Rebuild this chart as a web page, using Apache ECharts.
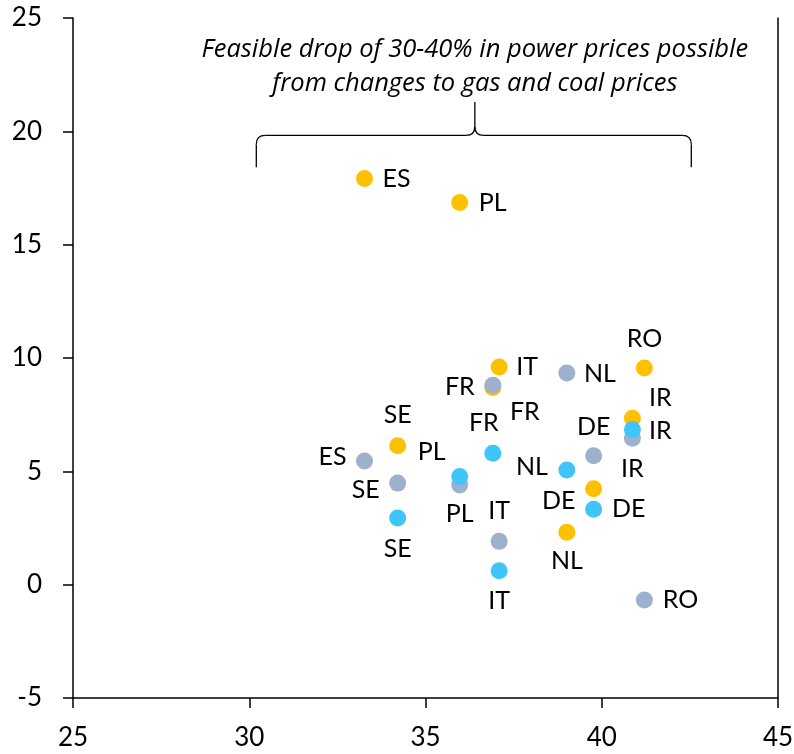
<!DOCTYPE html>
<html>
<head>
<meta charset="utf-8">
<script src="https://cdn.jsdelivr.net/npm/echarts@6/dist/echarts.min.js"></script>
<style>
  html, body { margin: 0; padding: 0; background: #fff; }
  #main { width: 794px; height: 754px; }
</style>
</head>
<body>
<div id="main"></div>
<script>
// countries and their x position (shared by all three series)
var countries = ['ES', 'SE', 'PL', 'FR', 'IT', 'NL', 'DE', 'IR', 'RO'];
var xValues = [33.27, 34.21, 35.97, 36.91, 37.09, 39.01, 39.77, 40.87, 41.21];

// y values per series (null = no point)
var orangeY = [17.92, 6.13, 16.86, 8.70, 9.60, 2.31, 4.23, 7.34, 9.56];
var greyY = [5.46, 4.48, 4.40, 8.80, 1.91, 9.34, 5.69, 6.46, -0.68];
var blueY = [null, 2.94, 4.77, 5.80, 0.61, 5.06, 3.33, 6.85, null];

// axis ticks
var xTicks = [25, 30, 35, 40, 45];
var yTicks = [-5, 0, 5, 10, 15, 20, 25];

// annotation
var noteText = ['Feasible drop of 30-40% in power prices possible', 'from changes to gas and coal prices'];
var braceX = [30.2, 36.4, 42.54];   // left, middle, right
var braceY = [18.42, 19.82, 21.29]; // ends, bar, tip
var noteY = 22.85;

// label offsets (px) from each point, same order as countries
var orangeLabelOffset = [[32, 0], [0, -31], [33, 0], [32, 24], [28, 0], [0, 29], [-35, 12], [28, -20], [0, -29]];
var greyLabelOffset = [[-32, -4], [-32, 7], [0, 29], [-33, 2], [0, -30], [33, 1], [0, -29], [0, 31], [36, 0]];
var blueLabelOffset = [null, [0, 31], [-28, -25], [-9, -30], [0, 30], [-35, -3], [35, 0], [28, 2], null];

var font = 'Lato';
var colors = ['#FFC000', '#9DB0CE', '#3FC5F9'];

function buildData(ys, offsets) {
    var out = [];
    for (var i = 0; i < countries.length; i++) {
        if (ys[i] === null) continue;
        out.push({
            name: countries[i],
            value: [xValues[i], ys[i]],
            label: { offset: offsets[i] }
        });
    }
    return out;
}

function scatter(name, color, ys, offsets) {
    return {
        name: name,
        type: 'scatter',
        symbolSize: 17,
        itemStyle: { color: color, opacity: 1 },
        label: {
            show: true,
            position: 'inside',
            formatter: '{b}',
            color: '#000',
            fontFamily: font,
            fontSize: 25
        },
        emphasis: { disabled: true },
        data: buildData(ys, offsets)
    };
}

var dom = document.getElementById('main');
var myChart = echarts.init(dom, null, { renderer: 'canvas' });

var option = {
    animation: false,
    grid: {
        left: 73,
        right: 16,
        top: 18,
        bottom: 56,
        containLabel: false,
        outerBoundsMode: 'none'
    },
    xAxis: {
        type: 'value',
        min: xTicks[0],
        max: xTicks[xTicks.length - 1],
        interval: 5,
        axisLine: { onZero: false, lineStyle: { color: '#000', width: 1.5 } },
        axisTick: { show: true, length: 10, lineStyle: { color: '#000', width: 1.5 } },
        splitLine: { show: false },
        axisLabel: { color: '#000', fontFamily: font, fontSize: 26, margin: 27 }
    },
    yAxis: [{
        type: 'value',
        min: yTicks[0],
        max: yTicks[yTicks.length - 1],
        interval: 5,
        axisLine: { show: true, onZero: false, lineStyle: { color: '#000', width: 1.5 } },
        axisTick: { show: true, length: 10, lineStyle: { color: '#000', width: 1.5 } },
        splitLine: { show: false },
        axisLabel: { color: '#000', fontFamily: font, fontSize: 26, margin: 31 }
    }, {
        type: 'value',
        position: 'right',
        min: yTicks[0],
        max: yTicks[yTicks.length - 1],
        interval: 5,
        axisLine: { show: true, onZero: false, lineStyle: { color: '#000', width: 1.5 } },
        axisTick: { show: false },
        axisLabel: { show: false },
        splitLine: { show: false }
    }],
    series: [
        scatter('Orange', colors[0], orangeY, orangeLabelOffset),
        scatter('Grey', colors[1], greyY, greyLabelOffset),
        scatter('Blue', colors[2], blueY, blueLabelOffset)
    ]
};
myChart.setOption(option);

// brace + note, placed through the grid's own scale
var pL = myChart.convertToPixel({ gridIndex: 0 }, [braceX[0], braceY[0]]);
var pM = myChart.convertToPixel({ gridIndex: 0 }, [braceX[1], braceY[1]]);
var pR = myChart.convertToPixel({ gridIndex: 0 }, [braceX[2], braceY[0]]);
var pTip = myChart.convertToPixel({ gridIndex: 0 }, [braceX[1], braceY[2]]);
var pNote = myChart.convertToPixel({ gridIndex: 0 }, [braceX[1], noteY]);
var bar = pM[1], r = 9;
var braceStyle = { fill: null, stroke: '#000', lineWidth: 1.3 };

function seg(x1, y1, x2, y2) {
    return { type: 'line', shape: { x1: x1, y1: y1, x2: x2, y2: y2 }, style: braceStyle, silent: true };
}
function curve(x1, y1, cx, cy, x2, y2) {
    return { type: 'bezierCurve', shape: { x1: x1, y1: y1, cpx1: cx, cpy1: cy, x2: x2, y2: y2 }, style: braceStyle, silent: true };
}

var braceParts = [
    seg(pL[0], pL[1], pL[0], bar + r),
    curve(pL[0], bar + r, pL[0], bar, pL[0] + r, bar),
    seg(pL[0] + r, bar, pM[0] - r, bar),
    curve(pM[0] - r, bar, pM[0], bar, pM[0], bar - r),
    seg(pM[0], bar - r, pTip[0], pTip[1]),
    curve(pM[0], bar - r, pM[0], bar, pM[0] + r, bar),
    seg(pM[0] + r, bar, pR[0] - r, bar),
    curve(pR[0] - r, bar, pR[0], bar, pR[0], bar + r),
    seg(pR[0], bar + r, pR[0], pR[1])
];

braceParts.push({
    type: 'text',
    x: pNote[0],
    y: pNote[1],
    style: {
        text: noteText.join('\n'),
        fontFamily: 'Open Sans',
        fontStyle: 'italic',
        fontSize: 25.5,
        lineHeight: 34,
        fill: '#000',
        align: 'center',
        verticalAlign: 'middle'
    },
    silent: true
});

myChart.setOption({ graphic: braceParts });
</script>
</body>
</html>
